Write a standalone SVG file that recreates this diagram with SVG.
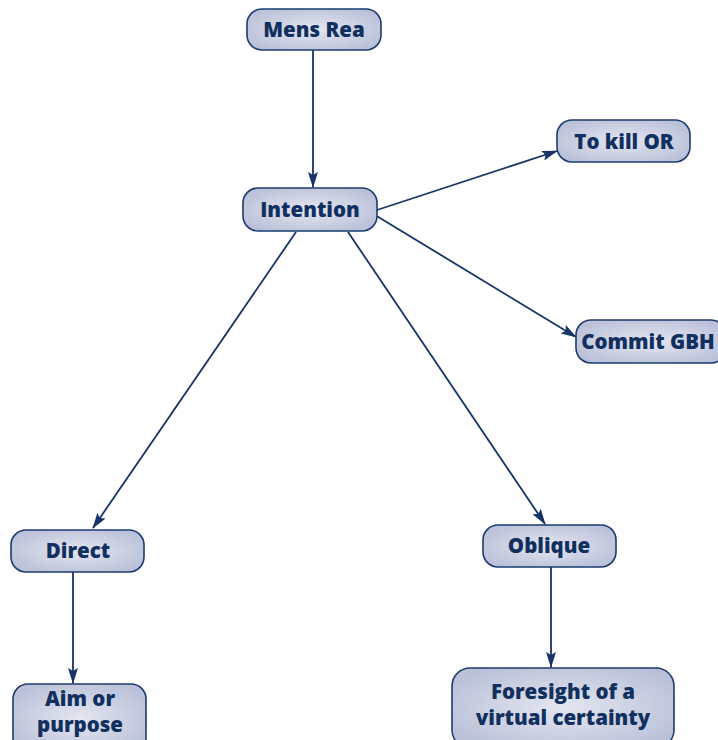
<svg xmlns="http://www.w3.org/2000/svg" width="718" height="740" viewBox="0 0 718 740">
<defs>
<radialGradient id="g" cx="50%" cy="50%" r="60%">
<stop offset="0" stop-color="#e4e6f0"/>
<stop offset="1" stop-color="#b9c0d8"/>
</radialGradient>
<marker id="ah" viewBox="0 0 16 10" refX="15" refY="5" markerWidth="16" markerHeight="10" markerUnits="userSpaceOnUse" orient="auto">
<path d="M0,0 L16,5 L0,10 L3,5 Z" fill="#163466"/>
</marker>
<style>
.box{fill:url(#g);stroke:#1c3b6e;stroke-width:1.6}
.t{font-family:"Open Sans","Noto Sans","Liberation Sans",sans-serif;font-weight:800;font-size:20.5px;fill:#12305f;text-anchor:middle}
.c{stroke:#163466;stroke-width:1.8;fill:none;marker-end:url(#ah)}
</style>
</defs>
<rect width="718" height="740" fill="#ffffff"/>
<g id="connectors">
<line class="c" x1="313" y1="50" x2="313" y2="187"/>
<line class="c" x1="377" y1="210" x2="557" y2="151"/>
<line class="c" x1="375" y1="215" x2="576" y2="337"/>
<line class="c" x1="296" y1="232" x2="93" y2="528"/>
<line class="c" x1="348" y1="232" x2="545" y2="524"/>
<line class="c" x1="73" y1="572" x2="73" y2="683"/>
<line class="c" x1="551" y1="567" x2="551" y2="667"/>
</g>
<g id="mens-rea"><rect class="box" x="247" y="9" width="134" height="41" rx="15"/><text class="t" x="314" y="37">Mens Rea</text></g>
<g id="intention"><rect class="box" x="243" y="188" width="134" height="43" rx="15"/><text class="t" x="310" y="217">Intention</text></g>
<g id="to-kill"><rect class="box" x="557" y="120" width="133" height="42" rx="15"/><text class="t" x="624" y="149">To kill OR</text></g>
<g id="commit-gbh"><rect class="box" x="576" y="320" width="150" height="43" rx="15"/><text class="t" x="648" y="349">Commit GBH</text></g>
<g id="direct"><rect class="box" x="11" y="530" width="133" height="42" rx="15"/><text class="t" x="78" y="558">Direct</text></g>
<g id="aim"><rect class="box" x="13" y="684" width="133" height="70" rx="15"/><text class="t" x="80" y="706">Aim or</text><text class="t" x="80" y="732">purpose</text></g>
<g id="oblique"><rect class="box" x="483" y="525" width="133" height="42" rx="15"/><text class="t" x="549" y="553">Oblique</text></g>
<g id="foresight"><rect class="box" x="452" y="668" width="222" height="80" rx="18"/><text class="t" x="563" y="699">Foresight of a</text><text class="t" x="563" y="725">virtual certainty</text></g>
</svg>
